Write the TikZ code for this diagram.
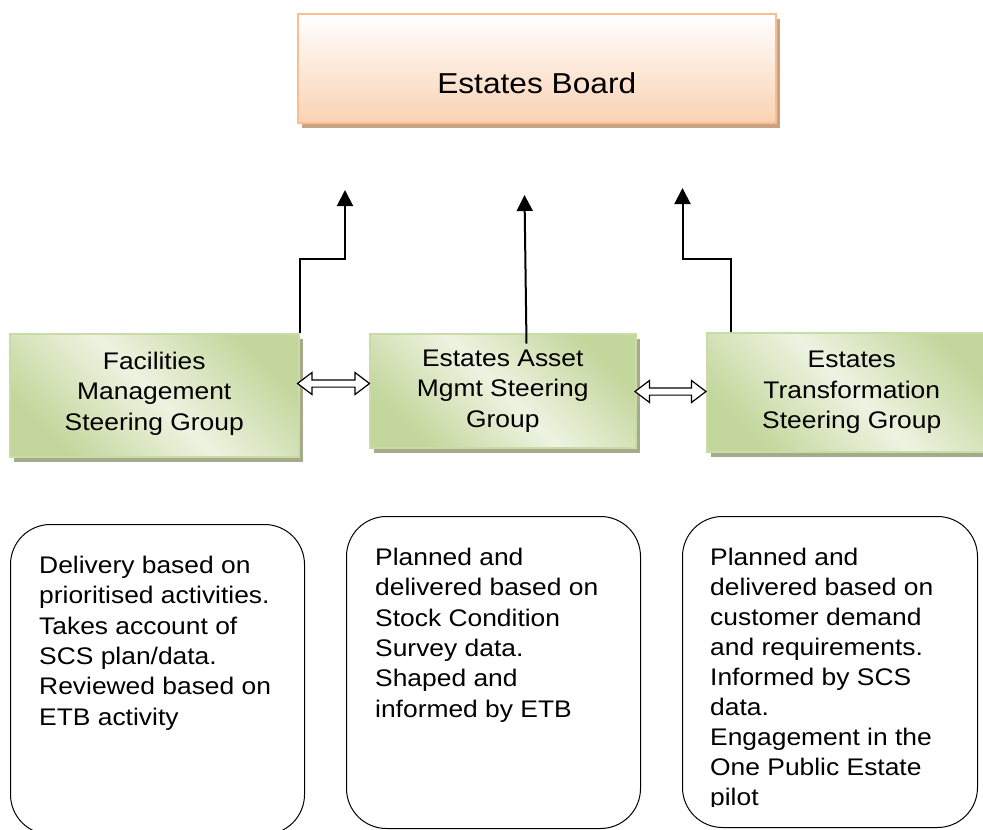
\documentclass[tikz,border=0pt]{standalone}
\usepackage{fontspec}
\setmainfont{Liberation Sans}[FakeStretch=1.1]
\usetikzlibrary{calc,shadows,arrows.meta}

\definecolor{gdark}{HTML}{C3D69B}
\definecolor{glight}{HTML}{EDF3E1}
\definecolor{gborder}{HTML}{C9DBA6}
\definecolor{gshadow}{HTML}{A3AB8B}
\definecolor{pborder}{HTML}{F9BF8F}
\definecolor{pbottom}{HTML}{FAD2B4}
\definecolor{pshadow}{HTML}{C9A383}

% first line of a note starts 20pt below the top of its text block
\newcommand{\firstline}{\rule{0pt}{20pt}}

\begin{document}
\begin{tikzpicture}[x=1pt,y=-1pt,
  board/.style={draw=pborder, line width=1.5pt, top color=white, bottom color=pbottom,
    drop shadow={shadow xshift=4pt, shadow yshift=-5pt, fill=pshadow, opacity=1},
    inner sep=0pt, anchor=north west, font=\fontsize{28.8}{34}\selectfont},
  group/.style={draw=gborder, line width=1.5pt,
    left color=gdark, right color=gdark, middle color=glight, shading angle=135,
    drop shadow={shadow xshift=4pt, shadow yshift=-5pt, fill=gshadow, opacity=1},
    inner sep=0pt, anchor=north west, align=center, font=\fontsize{24}{30.5}\selectfont},
  note/.style={draw=black, line width=1pt, rounded corners=40pt, anchor=north west, inner sep=0pt},
  notetext/.style={anchor=north west, align=left, inner sep=0pt, font=\fontsize{24}{30.4}\selectfont},
  uparrow/.style={line width=2pt, -{Triangle[length=16pt,width=16pt]}},
  dbl/.style={draw=black, line width=1.2pt, fill=white}
]
\clip (0,0) rectangle (983,830);

% top level board
\node[board, minimum width=478pt, minimum height=109pt, text height=51pt, text depth=0pt]
  (eb) at (297,13) {Estates Board};

% steering groups
\node[group, minimum width=289pt, minimum height=123pt, text depth=8pt] (fm) at (9,333)
  {Facilities\\Management\\Steering Group};
\node[group, minimum width=266pt, minimum height=114pt] (am) at (369,333)
  {Estates Asset\\Mgmt Steering\\Group};
\node[group, minimum width=290pt, minimum height=119pt] (tr) at (706,332)
  {Estates\\Transformation\\Steering Group};

% reporting lines up to the board
\coordinate (e1) at (345,190);
\coordinate (e2) at (524.5,195);
\coordinate (e3) at (682.5,188);
\draw[uparrow] (fm.north east) -- ++(0,-74) -| (e1);
\draw[uparrow] ($(am.north west)+(157.5,10.5)$) -- (e2);
\draw[uparrow] ($(tr.north west)+(24.5,0)$) -- ++(0,-73) -| (e3);

% two-way links between groups
\coordinate (d1a) at (297.5,383.5);
\coordinate (d1b) at (369.5,383.5);
\coordinate (d2a) at (635,391.5);
\coordinate (d2b) at (706,391.5);
\draw[dbl] (d1a) -- ++(14.5,-11) -- ++(0,7.4) -- ($(d1b)+(-14.5,-3.6)$) -- ++(0,-7.4)
  -- (d1b) -- ++(-14.5,11) -- ++(0,-7.4) -- ($(d1a)+(14.5,3.6)$) -- ++(0,7.4) -- cycle;
\draw[dbl] (d2a) -- ++(14.5,-11) -- ++(0,7.4) -- ($(d2b)+(-14.5,-3.6)$) -- ++(0,-7.4)
  -- (d2b) -- ++(-14.5,11) -- ++(0,-7.4) -- ($(d2a)+(14.5,3.6)$) -- ++(0,7.4) -- cycle;

% remit of each group
\node[note, minimum width=294pt, minimum height=310pt] (n1) at (10,524) {};
\node[note, minimum width=294pt, minimum height=312pt] (n2) at (346,516) {};
\node[note, minimum width=295pt, minimum height=311pt] (n3) at (682,516) {};

\node[notetext] (t1) at ($(n1.north west)+(29,29)$)
  {\firstline Delivery based on\\prioritised activities.\\Takes account of\\SCS plan/data.\\Reviewed based on\\ETB activity};
\node[notetext] (t2) at ($(n2.north west)+(29,29)$)
  {\firstline Planned and\\delivered based on\\Stock Condition\\Survey data.\\Shaped and\\informed by ETB};
\begin{scope}
  \clip (682,516) rectangle (983,806);
  \node[notetext, font=\fontsize{24}{30}\selectfont] (t3) at ($(n3.north west)+(28,29)$)
    {\firstline Planned and\\delivered based on\\customer demand\\and requirements.\\Informed by SCS\\data.\\Engagement in the\\One Public Estate\\pilot};
\end{scope}
\end{tikzpicture}
\end{document}
